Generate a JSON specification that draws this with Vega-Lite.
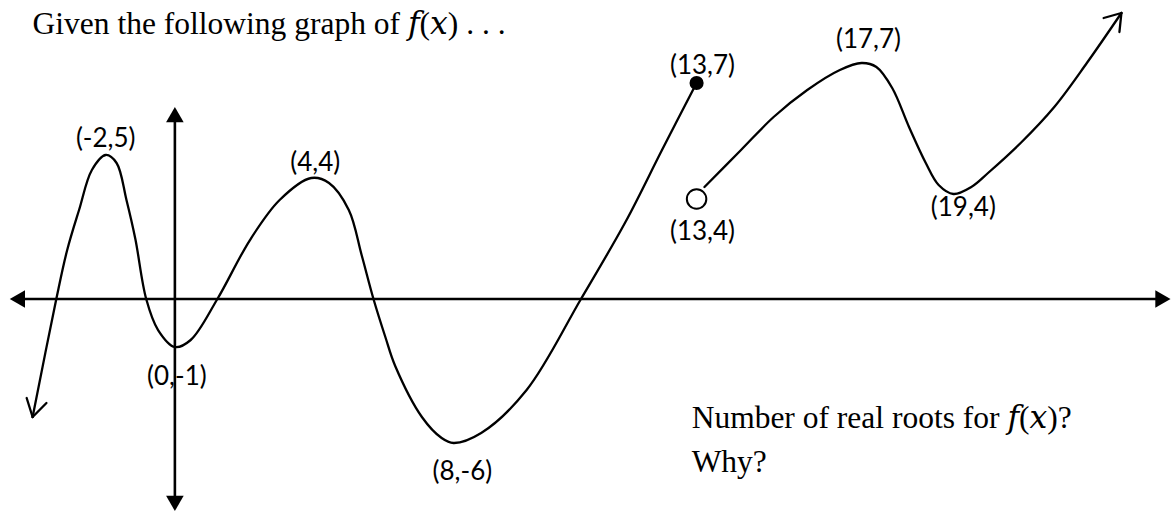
{
  "$schema": "https://vega.github.io/schema/vega-lite/v6.json",
  "width": 1171,
  "height": 512,
  "padding": 0,
  "autosize": {"type": "fit", "contains": "padding"},
  "background": "white",
  "config": {"view": {"stroke": null}},
  "datasets": {
    "curve": [
      {"piece": "A", "x": -4.114, "y": -3.967},
      {"piece": "A", "x": -3.429, "y": -0.033},
      {"piece": "A", "x": -3.114, "y": 1.6},
      {"piece": "A", "x": -2.771, "y": 2.933},
      {"piece": "A", "x": -2.4, "y": 4.267},
      {"piece": "A", "x": -2.0, "y": 4.767},
      {"piece": "A", "x": -1.686, "y": 4.5},
      {"piece": "A", "x": -1.4, "y": 3.267},
      {"piece": "A", "x": -1.143, "y": 1.967},
      {"piece": "A", "x": -0.829, "y": -0.033},
      {"piece": "A", "x": -0.486, "y": -1.067},
      {"piece": "A", "x": 0, "y": -1.633},
      {"piece": "A", "x": 0.457, "y": -1.4},
      {"piece": "A", "x": 1.229, "y": -0.033},
      {"piece": "A", "x": 2.171, "y": 1.933},
      {"piece": "A", "x": 3.029, "y": 3.267},
      {"piece": "A", "x": 3.943, "y": 4.0},
      {"piece": "A", "x": 4.457, "y": 3.833},
      {"piece": "A", "x": 5.029, "y": 2.933},
      {"piece": "A", "x": 5.4, "y": 1.433},
      {"piece": "A", "x": 5.743, "y": -0.033},
      {"piece": "A", "x": 6.086, "y": -1.3},
      {"piece": "A", "x": 6.371, "y": -2.267},
      {"piece": "A", "x": 7.143, "y": -3.967},
      {"piece": "A", "x": 7.714, "y": -4.667},
      {"piece": "A", "x": 8.057, "y": -4.833},
      {"piece": "A", "x": 8.857, "y": -4.5},
      {"piece": "A", "x": 10.171, "y": -3.067},
      {"piece": "A", "x": 11.743, "y": -0.033},
      {"piece": "A", "x": 13.029, "y": 2.533},
      {"piece": "A", "x": 14.086, "y": 4.933},
      {"piece": "A", "x": 15.086, "y": 7.167},
      {"piece": "B", "x": 15.314, "y": 3.7},
      {"piece": "B", "x": 16.371, "y": 4.933},
      {"piece": "B", "x": 17.314, "y": 6.033},
      {"piece": "B", "x": 18.286, "y": 6.933},
      {"piece": "B", "x": 19.229, "y": 7.6},
      {"piece": "B", "x": 19.857, "y": 7.833},
      {"piece": "B", "x": 20.286, "y": 7.7},
      {"piece": "B", "x": 20.743, "y": 7.0},
      {"piece": "B", "x": 21.229, "y": 5.7},
      {"piece": "B", "x": 21.714, "y": 4.5},
      {"piece": "B", "x": 22.086, "y": 3.767},
      {"piece": "B", "x": 22.514, "y": 3.467},
      {"piece": "B", "x": 23.029, "y": 3.7},
      {"piece": "B", "x": 23.514, "y": 4.167},
      {"piece": "B", "x": 24.457, "y": 5.167},
      {"piece": "B", "x": 25.429, "y": 6.367},
      {"piece": "B", "x": 26.371, "y": 7.833},
      {"piece": "B", "x": 27.371, "y": 9.5}
    ],
    "rules": [
      {"kind": "axis", "x": -4.343, "y": -0.033, "x2": 28.4, "y2": -0.033},
      {"kind": "axis", "x": 0, "y": 5.9, "x2": 0, "y2": -6.7},
      {"kind": "arrow", "x": -4.114, "y": -3.967, "x2": -4.286, "y2": -3.333},
      {"kind": "arrow", "x": -4.114, "y": -3.967, "x2": -3.714, "y2": -3.5},
      {"kind": "arrow", "x": 27.371, "y": 9.5, "x2": 26.857, "y2": 9.333},
      {"kind": "arrow", "x": 27.371, "y": 9.5, "x2": 27.314, "y2": 8.867}
    ],
    "heads": [
      {"dir": "up", "x": 0, "y": 6.113},
      {"dir": "down", "x": 0, "y": -6.847},
      {"dir": "left", "x": -4.554, "y": -0.033},
      {"dir": "right", "x": 28.571, "y": -0.033}
    ],
    "dots": [
      {"kind": "closed", "x": 15.086, "y": 7.167},
      {"kind": "open", "x": 15.086, "y": 3.3}
    ],
    "labels": [
      {"label": "(-2,5)", "x": -2.0, "y": 5.3},
      {"label": "(4,4)", "x": 4.057, "y": 4.5},
      {"label": "(0,-1)", "x": 0.057, "y": -2.633},
      {"label": "(8,-6)", "x": 8.314, "y": -5.8},
      {"label": "(13,7)", "x": 15.257, "y": 7.733},
      {"label": "(13,4)", "x": 15.257, "y": 2.2},
      {"label": "(17,7)", "x": 20.057, "y": 8.6},
      {"label": "(19,4)", "x": 22.8, "y": 3.0}
    ],
    "notes": [
      {"text": "Given the following graph of 𝑓(𝑥) . . .", "x": -4.114, "y": 8.8},
      {"text": "Number of real roots for 𝑓(𝑥)?", "x": 14.943, "y": -4.333},
      {"text": "Why?", "x": 14.943, "y": -5.8}
    ]
  },
  "encoding": {
    "x": {"field": "x", "type": "quantitative", "axis": null, "scale": {"domain": [-5.0571, 28.4], "nice": false, "zero": false}},
    "y": {"field": "y", "type": "quantitative", "axis": null, "scale": {"domain": [-7.1333, 9.9333], "nice": false, "zero": false}}
  },
  "layer": [
    {
      "data": {"name": "rules"},
      "transform": [{"filter": "datum.kind === 'axis'"}],
      "mark": {"type": "rule", "color": "black", "strokeWidth": 2.6},
      "encoding": {"x2": {"field": "x2"}, "y2": {"field": "y2"}}
    },
    {
      "data": {"name": "heads"},
      "mark": {"type": "point", "filled": true, "color": "black", "size": 310, "opacity": 1},
      "encoding": {
        "shape": {"field": "dir", "type": "nominal", "legend": null,
          "scale": {"domain": ["up", "down", "left", "right"], "range": ["triangle-up", "triangle-down", "triangle-left", "triangle-right"]}}
      }
    },
    {
      "data": {"name": "curve"},
      "mark": {"type": "line", "color": "black", "strokeWidth": 2.3, "interpolate": "catmull-rom", "strokeCap": "round"},
      "encoding": {"detail": {"field": "piece", "type": "nominal"}}
    },
    {
      "data": {"name": "rules"},
      "transform": [{"filter": "datum.kind === 'arrow'"}],
      "mark": {"type": "rule", "color": "black", "strokeWidth": 2.3, "strokeCap": "round"},
      "encoding": {"x2": {"field": "x2"}, "y2": {"field": "y2"}}
    },
    {
      "data": {"name": "dots"},
      "transform": [{"filter": "datum.kind === 'closed'"}],
      "mark": {"type": "point", "filled": true, "shape": "circle", "color": "black", "size": 200, "opacity": 1}
    },
    {
      "data": {"name": "dots"},
      "transform": [{"filter": "datum.kind === 'open'"}],
      "mark": {"type": "point", "shape": "circle", "fill": "white", "stroke": "black", "strokeWidth": 2, "size": 380, "opacity": 1, "fillOpacity": 1}
    },
    {
      "data": {"name": "labels"},
      "mark": {"type": "text", "font": "Lato", "fontSize": 26, "color": "black", "align": "center", "baseline": "middle"},
      "encoding": {"text": {"field": "label"}}
    },
    {
      "data": {"name": "notes"},
      "mark": {"type": "text", "font": "Liberation Serif, DejaVu Serif", "fontSize": 31.5, "color": "black", "align": "left", "baseline": "alphabetic"},
      "encoding": {"text": {"field": "text"}}
    }
  ]
}
